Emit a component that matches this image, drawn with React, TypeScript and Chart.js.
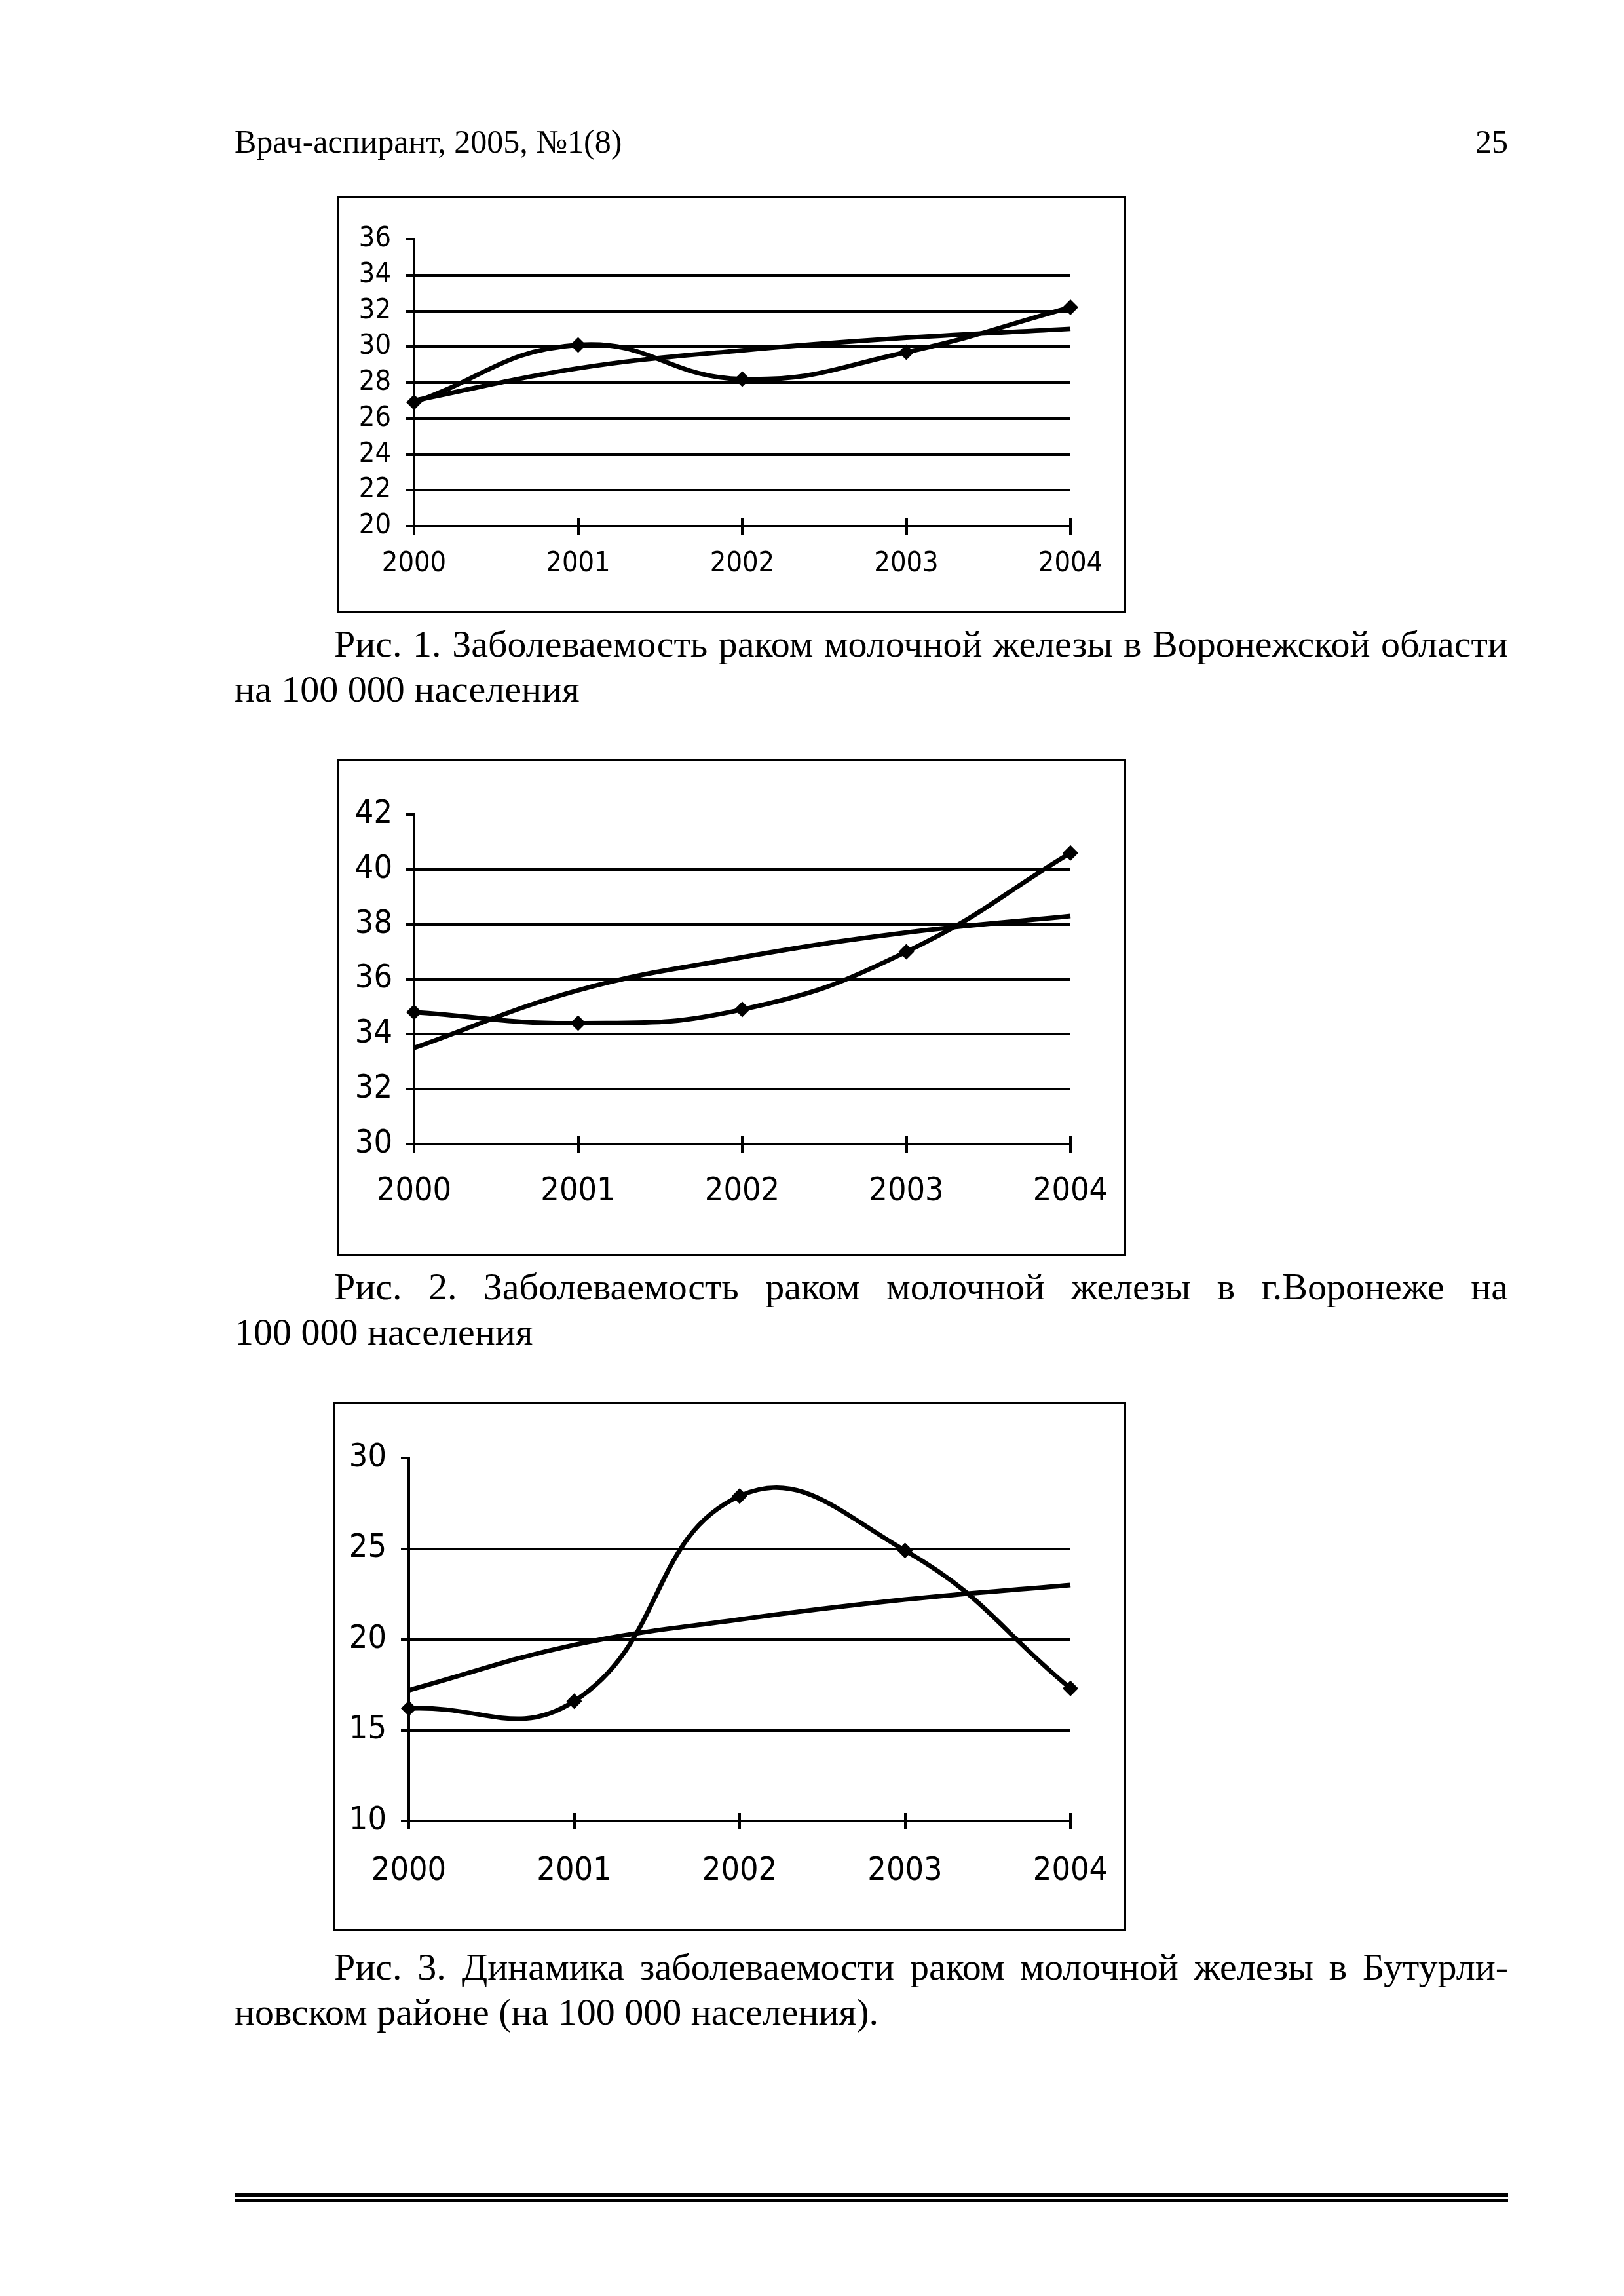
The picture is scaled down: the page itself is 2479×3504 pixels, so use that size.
import React, { useEffect, useRef } from 'react';
import { Chart, registerables } from 'chart.js';

Chart.register(...registerables);

// ---------- data ----------
const years = ['2000', '2001', '2002', '2003', '2004'];

const fig1Values = [26.9, 30.1, 28.2, 29.7, 32.2];
const fig1Trend = [27.0, 28.8, 29.8, 30.5, 31.0];
const fig1Ticks = { min: 20, max: 36, step: 2 };

const fig2Values = [34.8, 34.4, 34.9, 37.0, 40.6];
const fig2Trend = [33.5, 35.6, 36.8, 37.7, 38.3];
const fig2Ticks = { min: 30, max: 42, step: 2 };

const fig3Values = [16.2, 16.6, 27.9, 24.9, 17.3];
const fig3Trend = [17.2, 19.7, 21.1, 22.2, 23.0];
const fig3Ticks = { min: 10, max: 30, step: 5 };

const headerLeft = 'Врач-аспирант, 2005, №1(8)';
const headerRight = '25';
const caption1 = ['Рис. 1. Заболеваемость раком молочной железы в Воронежской области', 'на 100 000 населения'];
const caption2 = ['Рис. 2. Заболеваемость раком молочной железы в г.Воронеже на', '100 000 населения'];
const caption3 = ['Рис. 3. Динамика заболеваемости раком молочной железы в Бутурли-', 'новском районе (на 100 000 населения).'];

// ---------- layout ----------
const TICK_FAMILY = "'Liberation Sans Narrow', 'DejaVu Sans Condensed', 'Liberation Sans', sans-serif";
const SERIF = "'Liberation Serif', 'Times New Roman', serif";

type Geo = {
  left: number; top: number; width: number; height: number;
  areaLeft: number; areaTop: number; areaRight: number; areaBottom: number;
  fontSize: number; xLabelOffset: number; yPad: number;
};

const geo1: Geo = { left: 515, top: 299, width: 1198, height: 630, areaLeft: 114, areaTop: 63, areaRight: 1116, areaBottom: 501, fontSize: 43, xLabelOffset: 45, yPad: 23 };
const geo2: Geo = { left: 515, top: 1159, width: 1198, height: 752, areaLeft: 114, areaTop: 81, areaRight: 1116, areaBottom: 584, fontSize: 50, xLabelOffset: 60, yPad: 21 };
const geo3: Geo = { left: 508, top: 2139, width: 1205, height: 802, areaLeft: 113, areaTop: 83, areaRight: 1123, areaBottom: 637, fontSize: 50, xLabelOffset: 64, yPad: 22 };

const X_TICK_PAD = 8;

function LineFigure(props: { geo: Geo; values: number[]; trend: number[]; ticks: { min: number; max: number; step: number } }) {
  const { geo, values, trend, ticks } = props;
  const ref = useRef<HTMLCanvasElement | null>(null);

  useEffect(() => {
    const canvas = ref.current;
    if (!canvas) return;
    const W = geo.width;
    const H = geo.height;
    const xLineHeight = (2 * (geo.xLabelOffset - X_TICK_PAD)) / geo.fontSize;
    const xTicksUp = {
      id: 'xTicksUp',
      afterDatasetsDraw(chart: any) {
        const xs = chart.scales.x;
        const ctx = chart.ctx;
        ctx.save();
        ctx.strokeStyle = '#000';
        ctx.lineWidth = 4;
        xs.ticks.forEach((_t: any, i: number) => {
          const px = Math.round(xs.getPixelForTick(i));
          ctx.beginPath();
          ctx.moveTo(px, chart.chartArea.bottom - 12);
          ctx.lineTo(px, chart.chartArea.bottom);
          ctx.stroke();
        });
        ctx.restore();
      },
    };
    const chart = new Chart(canvas, {
      type: 'line',
      data: {
        labels: years,
        datasets: [
          {
            data: trend,
            borderColor: '#000',
            borderWidth: 7,
            tension: 0.4,
            pointRadius: 0,
            fill: false,
          },
          {
            data: values,
            borderColor: '#000',
            borderWidth: 7,
            tension: 0.45,
            pointStyle: 'rectRot',
            pointRadius: 12,
            pointBackgroundColor: '#000',
            pointBorderColor: '#000',
            pointBorderWidth: 0,
            fill: false,
          },
        ],
      },
      options: {
        responsive: false,
        animation: false,
        devicePixelRatio: 1,
        layout: { padding: { left: 0, top: geo.areaTop, right: W - geo.areaRight, bottom: 0 } },
        plugins: { legend: { display: false }, tooltip: { enabled: false } },
        scales: {
          x: {
            type: 'category',
            offset: false,
            grid: { drawOnChartArea: false, color: '#000', lineWidth: 4, tickLength: 13 },
            border: { display: true, color: '#000', width: 4 },
            ticks: {
              color: '#000',
              font: { family: TICK_FAMILY, size: geo.fontSize, lineHeight: xLineHeight },
              padding: X_TICK_PAD,
              maxRotation: 0,
              autoSkip: false,
            },
            afterFit: (s: any) => { s.height = H - geo.areaBottom; },
          },
          y: {
            min: ticks.min,
            max: ticks.max,
            grid: {
              color: (c: any) => (c.tick && c.tick.value === ticks.max ? 'rgba(0,0,0,0)' : '#000'),
              tickColor: '#000',
              lineWidth: 4,
              tickLength: 12,
            },
            border: { display: true, color: '#000', width: 4 },
            ticks: {
              stepSize: ticks.step,
              color: '#000',
              font: { family: TICK_FAMILY, size: geo.fontSize, lineHeight: 1 },
              padding: geo.yPad,
            },
            afterFit: (s: any) => { s.width = geo.areaLeft; },
          },
        },
      } as any,
      plugins: [xTicksUp],
    });
    return () => chart.destroy();
  }, []);

  return (
    <div
      style={{
        position: 'absolute',
        left: geo.left,
        top: geo.top,
        width: geo.width,
        height: geo.height,
        border: '3px solid #000',
        background: '#fff',
      }}
    >
      <canvas ref={ref} width={geo.width} height={geo.height} style={{ display: 'block', width: geo.width, height: geo.height }} />
    </div>
  );
}

function JustifiedLine(props: { text: string; left: number; width: number; baseline: number }) {
  const words = props.text.split(' ');
  return (
    <div
      style={{
        position: 'absolute',
        left: props.left,
        top: props.baseline - 53,
        width: props.width,
        height: 66,
        lineHeight: '66px',
        fontFamily: SERIF,
        fontSize: 58,
        display: 'flex',
        justifyContent: 'space-between',
        whiteSpace: 'nowrap',
        color: '#000',
      }}
    >
      {words.map((w, i) => (
        <span key={i}>{w}</span>
      ))}
    </div>
  );
}

function PlainLine(props: { text: string; left: number; baseline: number }) {
  return (
    <div
      style={{
        position: 'absolute',
        left: props.left,
        top: props.baseline - 53,
        height: 66,
        lineHeight: '66px',
        fontFamily: SERIF,
        fontSize: 58,
        whiteSpace: 'nowrap',
        color: '#000',
      }}
    >
      {props.text}
    </div>
  );
}

function Caption(props: { lines: string[]; base: number }) {
  return (
    <>
      <JustifiedLine text={props.lines[0]} left={510} width={1792} baseline={props.base} />
      <PlainLine text={props.lines[1]} left={358} baseline={props.base + 69} />
    </>
  );
}

export default function App() {
  return (
    <div style={{ position: 'absolute', left: 0, top: 0, width: 2479, height: 3504, background: '#fff', overflow: 'hidden' }}>
      <div
        style={{
          position: 'absolute',
          left: 358,
          top: 187,
          width: 1944,
          height: 58,
          lineHeight: '58px',
          fontFamily: SERIF,
          fontSize: 50,
          display: 'flex',
          justifyContent: 'space-between',
          whiteSpace: 'nowrap',
          color: '#000',
        }}
      >
        <span>{headerLeft}</span>
        <span>{headerRight}</span>
      </div>

      <LineFigure geo={geo1} values={fig1Values} trend={fig1Trend} ticks={fig1Ticks} />
      <Caption lines={caption1} base={1003} />

      <LineFigure geo={geo2} values={fig2Values} trend={fig2Trend} ticks={fig2Ticks} />
      <Caption lines={caption2} base={1984} />

      <LineFigure geo={geo3} values={fig3Values} trend={fig3Trend} ticks={fig3Ticks} />
      <Caption lines={caption3} base={3022} />

      <div style={{ position: 'absolute', left: 359, top: 3347, width: 1943, height: 6, background: '#000' }} />
      <div style={{ position: 'absolute', left: 359, top: 3356, width: 1943, height: 4, background: '#000' }} />
    </div>
  );
}
